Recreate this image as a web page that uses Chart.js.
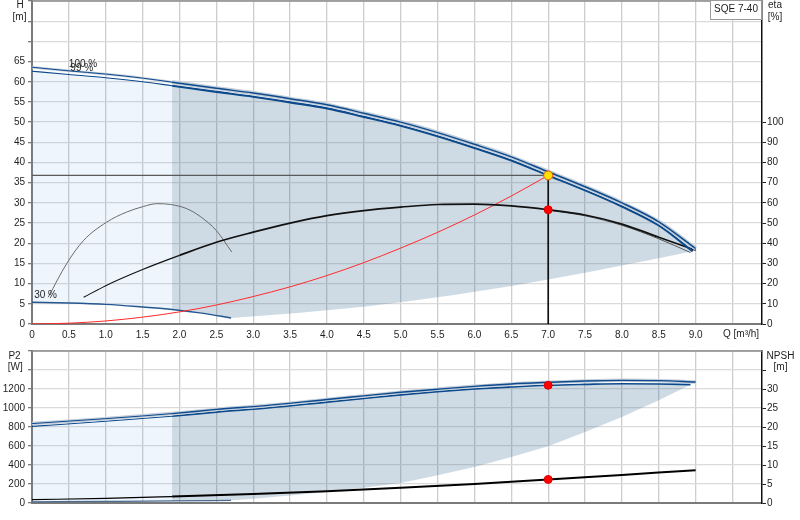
<!DOCTYPE html>
<html>
<head>
<meta charset="utf-8">
<script src="https://cdn.jsdelivr.net/npm/chart.js@4.4.0/dist/chart.umd.min.js"></script>
<style>
  body { margin: 0; background: #fff; }
  #wrap { position: relative; width: 800px; height: 520px; }
  canvas { position: absolute; left: 0; }
  #top { top: 0; }
  #bot { top: 340px; }
</style>
</head>
<body>
<div id="wrap">
  <canvas id="top" width="800" height="345"></canvas>
  <canvas id="bot" width="800" height="180"></canvas>
</div>
<script>
// ---- duty point ----
const dutyQ = 7.0, dutyH = 36.8, dutyEta = 56.6, dutyP2 = 1239, dutyNpsh = 6.2;

// ---- top chart: head H [m] and eta [%] vs Q [m3/h] ----
const qH100 = [0, 0.5, 1.0, 1.5, 1.9, 2.5, 3.0, 3.5, 4.0, 4.5, 5.0, 5.5, 6.0, 6.5, 7.0, 7.5, 8.0, 8.5, 9.0];
const hH100 = [63.6, 62.7, 61.9, 60.9, 59.9, 58.4, 57.2, 55.8, 54.3, 52.2, 50.0, 47.4, 44.5, 41.4, 37.7, 34.0, 30.0, 25.3, 18.7];
const qH99 = [0, 0.5, 1.0, 1.5, 1.9, 2.5, 3.0, 3.5, 4.0, 4.5, 5.0, 5.5, 6.0, 6.5, 7.0, 7.5, 8.0, 8.5, 8.96];
const hH99 = [62.6, 61.8, 61.0, 60.0, 59.0, 57.5, 56.3, 54.9, 53.4, 51.3, 49.1, 46.5, 43.6, 40.5, 36.8, 33.1, 29.1, 24.4, 18.0];
const qH30 = [0, 0.5, 1.0, 1.5, 1.9, 2.3, 2.7];
const hH30 = [5.4, 5.2, 4.85, 4.2, 3.6, 2.7, 1.5];
const qHLimit = [2.7, 3.6, 4.5, 5.0, 5.7, 6.5, 7.0, 7.5, 8.0, 8.5, 8.96];
const hHLimit = [1.5, 2.7, 4.3, 5.4, 7.1, 9.4, 11.0, 12.7, 14.5, 16.3, 18.0];
const qSys = [0, 0.5, 1.0, 1.5, 2.0, 2.5, 3.0, 3.5, 4.0, 4.5, 5.0, 5.5, 6.0, 6.5, 7.0];
const hSys = [0, 0.2, 0.75, 1.7, 3.0, 4.7, 6.8, 9.2, 12.0, 15.2, 18.8, 22.7, 27.0, 31.7, 36.8];
const qEta = [0.7, 1.0, 1.5, 2.0, 2.5, 3.0, 3.5, 4.0, 4.5, 5.0, 5.5, 6.0, 6.5, 7.0, 7.5, 8.0, 8.5, 9.0];
const eta100 = [13.2, 19.0, 27.0, 34.0, 40.5, 45.5, 50.0, 53.7, 56.2, 57.9, 59.2, 59.4, 58.5, 56.6, 54.0, 49.5, 43.0, 36.5];
const qEta99 = [7.0, 7.5, 8.0, 8.5, 8.93];
const eta99 = [56.4, 53.6, 48.9, 42.2, 35.4];
const qEta30 = [0.22, 0.47, 0.7, 1.01, 1.28, 1.51, 1.69, 1.88, 2.1, 2.28, 2.5, 2.71];
const eta30 = [13.3, 29.9, 41.4, 50.4, 55.4, 58.2, 59.6, 59.2, 57.1, 53.3, 46.3, 35.6];

// ---- bottom chart: P2 [W] and NPSH [m] vs Q ----
const qP100 = [0, 1.0, 1.9, 2.5, 3.2, 4.0, 4.5, 5.0, 5.5, 6.0, 6.5, 7.0, 7.5, 8.0, 8.5, 9.0];
const p100 = [836, 888, 941, 985, 1028, 1090, 1128, 1166, 1198, 1228, 1253, 1270, 1284, 1291, 1288, 1274];
const qP99 = [0, 1.0, 1.9, 2.5, 3.2, 4.0, 4.5, 5.0, 5.5, 6.0, 6.5, 7.0, 7.5, 8.0, 8.5, 8.93];
const p99 = [807, 860, 913, 957, 1000, 1062, 1100, 1138, 1172, 1200, 1221, 1239, 1249, 1256, 1253, 1246];
const qP30 = [0, 1.0, 1.9, 2.7];
const p30 = [12, 17, 22, 28];
const qPLimit = [2.7, 3.0, 3.5, 4.0, 4.5, 5.0, 5.5, 6.0, 6.5, 7.0, 7.5, 8.0, 8.5, 8.93];
const pLimit = [28, 45, 80, 115, 160, 211, 292, 379, 484, 597, 747, 905, 1081, 1246];
const qNpsh = [0, 1.0, 1.9, 3.0, 4.0, 5.0, 6.0, 7.0, 8.0, 9.0];
const npsh = [0.9, 1.2, 1.7, 2.4, 3.1, 4.0, 5.0, 6.2, 7.4, 8.6];

const FONT = "'Liberation Sans', Arial, sans-serif";
Chart.defaults.font.family = FONT;
Chart.defaults.font.size = 10;
Chart.defaults.color = '#1e1e1e';

const pts = (qs, vs) => qs.map((q, i) => ({ x: q, y: vs[i] }));
// thinner lines left of the operating range (Q < 1.9)
const widths = (a, b) => ({ borderWidth: c => (c.p0.parsed.x < 1.89 ? a : b) });

function curve(data, color, width, more) {
  return Object.assign({
    data, borderColor: color, borderWidth: width, pointRadius: 0, fill: false,
    cubicInterpolationMode: 'monotone', yAxisID: 'y'
  }, more || {});
}
function dot(q, v, axis, bg, edge, r) {
  return { data: [{ x: q, y: v }], yAxisID: axis, showLine: false, pointRadius: r,
    pointBackgroundColor: bg, pointBorderColor: edge, pointBorderWidth: 1 };
}
function area(poly, color) {
  return { data: poly, yAxisID: 'y', borderWidth: 0, borderColor: 'rgba(0,0,0,0)',
    pointRadius: 0, tension: 0, fill: 'shape', backgroundColor: color };
}
function band(upper, lower, from, to) {
  const inside = p => p.x >= from - 1e-9 && p.x <= to + 1e-9;
  return upper.filter(inside).concat(lower.filter(inside).reverse());
}

const DARK = 'rgba(60,110,150,0.25)';
const LIGHT = 'rgba(90,160,240,0.10)';
const NAVY = '#0d4a8c';
const HALO = '#c3ceda';

function xScale(h, labels) {
  return {
    type: 'linear', min: 0, max: 9.9,
    afterFit: s => { s.height = h; s.paddingLeft = 0; s.paddingRight = 0; },
    ticks: { display: labels, stepSize: 0.5, includeBounds: false, padding: 5, maxRotation: 0, autoSkip: false,
      callback: v => (v === 0 ? '0' : (v > 9.01 ? '' : v.toFixed(1))) },
    grid: { color: '#cdcdcd', lineWidth: 1.3, drawTicks: false },
    border: { color: '#7a7a7a', width: 2 }
  };
}
function leftScale(max, step, lastLabel) {
  return {
    position: 'left', min: 0, max,
    afterFit: s => { s.width = 32; s.paddingTop = 0; s.paddingBottom = 0; },
    ticks: { stepSize: step, padding: 3, autoSkip: false, callback: v => (v <= lastLabel ? v : '') },
    grid: { color: '#dadada', lineWidth: 1.3, tickLength: 4, tickColor: '#7a7a7a' },
    border: { color: '#7a7a7a', width: 2 }
  };
}
function rightScale(max, step, lastLabel, tickTop) {
  return {
    position: 'right', min: 0, max,
    afterFit: s => { s.width = 38; s.paddingTop = 0; s.paddingBottom = 0; },
    ticks: { stepSize: step, padding: 1, autoSkip: false, callback: v => (v <= lastLabel ? v : '') },
    grid: { drawOnChartArea: false, tickLength: 4,
      tickColor: c => (c.tick && c.tick.value <= tickTop ? '#222' : 'rgba(0,0,0,0)') },
    border: { color: '#111', width: 1.5 }
  };
}

function textPlugin(id, draw) {
  return {
    id,
    afterDraw(chart) {
      const ctx = chart.ctx;
      const a = chart.chartArea;
      ctx.save();
      ctx.strokeStyle = '#8a8a8a';
      ctx.lineWidth = 1.5;
      ctx.beginPath();
      ctx.moveTo(a.left, a.top);
      ctx.lineTo(a.right, a.top);
      ctx.stroke();
      ctx.font = '10px ' + FONT;
      ctx.fillStyle = '#1e1e1e';
      ctx.textBaseline = 'middle';
      draw(chart, ctx);
      ctx.restore();
    }
  };
}

// ---------- top chart ----------
const h99Pts = pts(qH99, hH99);
const h30Pts = pts(qH30, hH30);
const lightTop = band(h99Pts, h30Pts, 0, 1.9);
const darkTop = band(h99Pts, h30Pts.concat(pts(qHLimit, hHLimit)), 1.9, 9.9);

const curveLabels = [
  { text: '100 %', q: 0.5, h: 64.4 },
  { text: '99 %', q: 0.52, h: 63.3 },
  { text: '30 %', q: 0.03, h: 7.2 }
];

new Chart(document.getElementById('top'), {
  type: 'line',
  data: {
    datasets: [
      dot(dutyQ, dutyH, 'y', '#ffe000', '#e8590c', 4.5),
      dot(dutyQ, dutyEta, 'y2', '#ff0000', '#e00000', 4),
      curve([{ x: dutyQ, y: 0 }, { x: dutyQ, y: dutyH }], '#000', 1.5),
      curve(pts(qH100, hH100), NAVY, 1.4, { segment: widths(1, 1.5) }),
      curve(pts(qH100, hH100), HALO, 3.5, { segment: widths(2.5, 4.2) }),
      curve(h99Pts, NAVY, 2, { segment: widths(1.1, 2.1) }),
      curve(pts(qEta, eta100), '#111', 1.6, { yAxisID: 'y2', segment: widths(1.1, 1.7) }),
      curve(pts(qEta99, eta99), '#555', 1, { yAxisID: 'y2' }),
      curve(pts(qSys, hSys), '#ff2a2a', 1),
      curve(h30Pts, '#24578f', 1.4),
      curve(pts(qEta30, eta30), '#6a6a6a', 1, { yAxisID: 'y2' }),
      curve([{ x: 0, y: dutyH }, { x: dutyQ, y: dutyH }], '#5a5a5a', 1.2),
      area(darkTop, DARK),
      area(lightTop, LIGHT)
    ]
  },
  options: {
    responsive: false, animation: false, events: [],
    layout: { autoPadding: false, padding: { top: 1, left: 0, right: 0, bottom: 0 } },
    plugins: { legend: { display: false }, tooltip: { enabled: false } },
    scales: {
      x: xScale(21, true),
      y: leftScale(80, 5, 65),
      y2: rightScale(160, 10, 100, 100)
    }
  },
  plugins: [textPlugin('topText', (chart, ctx) => {
    const { x, y } = chart.scales;
    ctx.textAlign = 'center';
    ctx.fillText('H', 20, 5);
    ctx.fillText('[m]', 19.5, 17);
    ctx.fillText('eta', 775, 5);
    ctx.fillText('[%]', 775, 17);
    ctx.textAlign = 'left';
    ctx.fillText('Q [m³/h]', 723, 334);
    curveLabels.forEach(l => ctx.fillText(l.text, x.getPixelForValue(l.q), y.getPixelForValue(l.h)));
    // model box
    ctx.fillStyle = '#fff';
    ctx.fillRect(710.5, 0.5, 51, 19);
    ctx.strokeStyle = '#9a9a9a';
    ctx.lineWidth = 1;
    ctx.strokeRect(710.5, 0.5, 51, 19);
    ctx.fillStyle = '#1e1e1e';
    ctx.textAlign = 'center';
    ctx.fillText('SQE 7-40', 736, 9);
  })]
});

// ---------- bottom chart ----------
const p99Pts = pts(qP99, p99);
const p30Pts = pts(qP30, p30);
const lightBot = band(p99Pts, p30Pts, 0, 1.9);
const darkBot = band(p99Pts, p30Pts.concat(pts(qPLimit, pLimit)), 1.9, 9.9);

new Chart(document.getElementById('bot'), {
  type: 'line',
  data: {
    datasets: [
      dot(dutyQ, dutyP2, 'y', '#ff0000', '#e00000', 4),
      dot(dutyQ, dutyNpsh, 'y2', '#ff0000', '#e00000', 4),
      curve(pts(qP100, p100), NAVY, 1.2, { segment: widths(1, 1.4) }),
      curve(pts(qP100, p100), HALO, 3.5),
      curve(p99Pts, NAVY, 1.5, { segment: widths(1.1, 1.6) }),
      curve(pts(qNpsh, npsh), '#000', 1.8, { yAxisID: 'y2', segment: widths(1.2, 2) }),
      curve(p30Pts, '#4a6b8f', 1.2),
      area(darkBot, DARK),
      area(lightBot, LIGHT)
    ]
  },
  options: {
    responsive: false, animation: false, events: [],
    layout: { autoPadding: false, padding: { top: 11, left: 0, right: 0, bottom: 0 } },
    plugins: { legend: { display: false }, tooltip: { enabled: false } },
    scales: {
      x: xScale(17, false),
      y: leftScale(1600, 200, 1200),
      y2: rightScale(40, 5, 30, 35)
    }
  },
  plugins: [textPlugin('botText', (chart, ctx) => {
    ctx.textAlign = 'center';
    ctx.fillText('P2', 14.5, 16);
    ctx.fillText('[W]', 15.3, 27);
    ctx.fillText('NPSH', 780.5, 16);
    ctx.fillText('[m]', 780.5, 27);
  })]
});
</script>
</body>
</html>
